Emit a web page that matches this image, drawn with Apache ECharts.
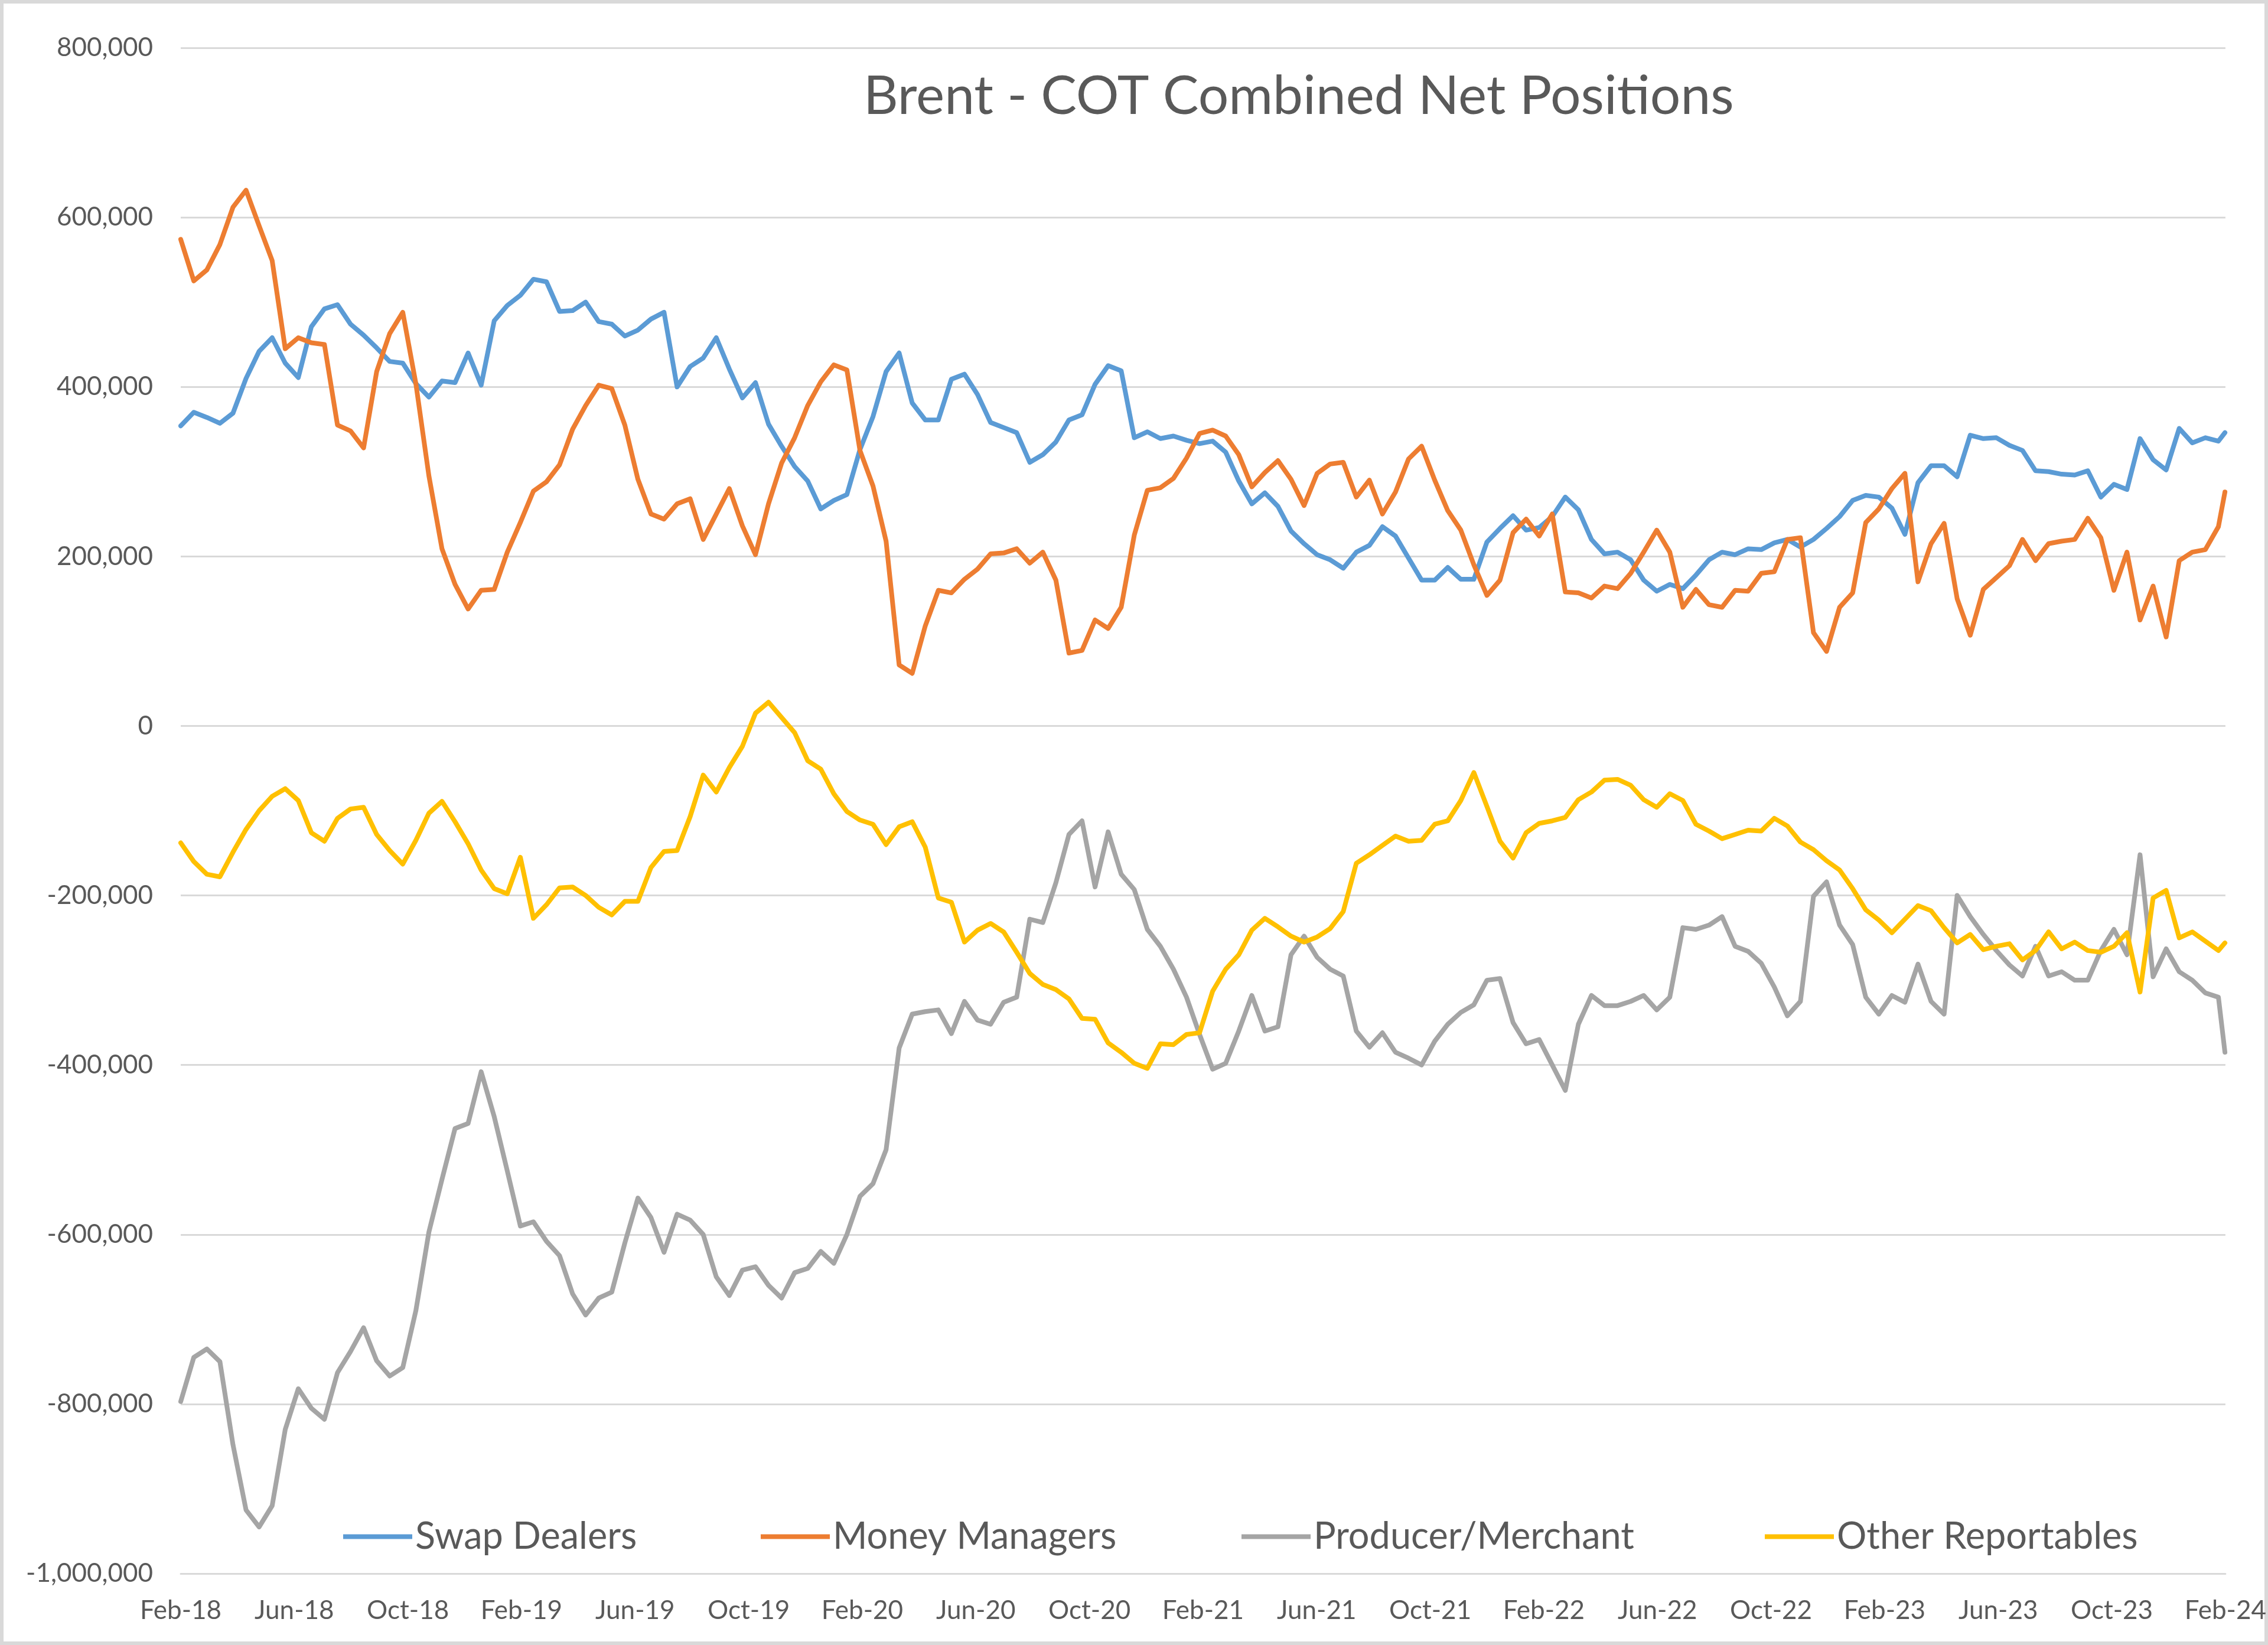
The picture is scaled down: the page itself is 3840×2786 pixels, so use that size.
<!DOCTYPE html>
<html>
<head>
<meta charset="utf-8">
<script src="https://cdn.jsdelivr.net/npm/echarts@6/dist/echarts.min.js"></script>
<style>
html,body{margin:0;padding:0;background:#ffffff;}
#chart{width:3840px;height:2786px;}
</style>
</head>
<body>
<div id="chart"></div>
<script>
// ---- Data (net positions, thousands of contracts), sampled every 2 weeks from 6 Feb 2018 ----
const titleText = 'Brent - COT Combined Net Positions';
const seriesNames = ['Swap Dealers', 'Money Managers', 'Producer/Merchant', 'Other Reportables'];
const xLabels = ['Feb-18','Jun-18','Oct-18','Feb-19','Jun-19','Oct-19','Feb-20','Jun-20','Oct-20',
  'Feb-21','Jun-21','Oct-21','Feb-22','Jun-22','Oct-22','Feb-23','Jun-23','Oct-23','Feb-24'];

// week offsets of the samples from the first report date
const sampleWeeks = [];
for (let k = 0; k <= 312; k += 2) sampleWeeks.push(k);
sampleWeeks.push(313);
const dates = sampleWeeks.map(k => new Date(Date.UTC(2018, 1, 6) + k * 7 * 86400000).toISOString().slice(0, 10));

const swapDealers = [
354,370,364,357,369,410,442,458,428,411,
471,492,497,474,461,446,430,428,404,388,
407,405,440,402,478,496,508,527,524,489,
490,500,477,474,460,467,480,488,400,424,
434,458,421,387,405,356,330,306,289,256,
266,273,326,365,418,440,381,361,361,409,
415,391,358,352,346,311,320,335,361,367,
403,425,419,340,347,339,342,337,333,336,
323,289,262,275,259,230,215,202,196,186,
205,213,235,224,198,172,172,187,173,173,
217,233,248,231,234,247,270,255,220,203,
205,196,172,159,167,162,178,196,205,202,
209,208,216,220,211,220,233,247,266,272,
270,257,226,287,307,307,294,343,339,340,
331,325,301,300,297,296,301,270,285,279,
339,314,302,351,334,340,336,346];

const moneyManagers = [
574,525,538,568,612,632,590,549,445,458,
452,450,355,348,328,418,463,488,404,295,
209,167,138,160,161,205,240,277,288,308,
350,378,402,398,355,291,250,244,262,268,
220,250,280,236,202,262,310,340,378,406,
426,420,325,283,218,72,62,118,160,157,
173,185,203,204,209,192,205,172,86,89,
125,115,140,225,278,281,292,316,345,349,
342,320,282,299,313,291,260,298,309,311,
270,290,250,276,315,330,290,254,231,190,
154,172,228,244,224,250,158,157,151,165,
162,180,205,231,205,140,161,143,140,160,
159,180,182,220,222,110,88,140,157,240,
256,280,298,170,215,239,150,107,161,175,
189,220,195,215,218,220,245,222,160,205,
125,165,105,195,205,208,235,276];

const producerMerchant = [
-797,-745,-735,-750,-848,-925,-945,-920,-830,-782,
-805,-818,-763,-738,-710,-749,-767,-757,-690,-597,
-535,-475,-469,-408,-461,-525,-590,-585,-608,-625,
-670,-695,-675,-668,-610,-557,-580,-621,-576,-583,
-600,-650,-672,-642,-638,-660,-675,-645,-640,-620,
-634,-600,-555,-540,-500,-380,-340,-337,-335,-363,
-325,-347,-352,-326,-320,-228,-232,-185,-128,-112,
-190,-125,-175,-193,-240,-260,-287,-320,-364,-405,
-398,-360,-318,-360,-355,-270,-248,-273,-287,-295,
-360,-379,-362,-385,-392,-400,-372,-352,-338,-329,
-300,-298,-350,-375,-370,-400,-430,-352,-318,-330,
-330,-325,-318,-335,-320,-238,-240,-235,-225,-260,
-266,-280,-308,-342,-325,-201,-184,-235,-258,-320,
-340,-318,-326,-281,-325,-340,-200,-225,-246,-265,
-282,-295,-260,-295,-290,-300,-300,-265,-240,-270,
-152,-296,-263,-290,-300,-315,-320,-385];

const otherReportables = [
-138,-160,-175,-178,-149,-122,-100,-83,-74,-88,
-126,-136,-109,-98,-96,-128,-147,-163,-135,-103,
-89,-113,-139,-170,-192,-198,-155,-227,-211,-191,
-190,-200,-214,-223,-207,-207,-167,-148,-147,-107,
-58,-78,-49,-24,15,28,10,-8,-41,-51,
-80,-101,-111,-116,-140,-119,-113,-143,-203,-208,
-255,-241,-233,-243,-267,-292,-305,-311,-322,-345,
-346,-374,-385,-398,-404,-375,-376,-364,-362,-313,
-287,-270,-241,-227,-237,-248,-255,-249,-239,-219,
-162,-152,-141,-130,-136,-135,-116,-112,-88,-55,
-95,-136,-156,-126,-115,-112,-108,-87,-78,-64,
-63,-70,-87,-96,-80,-88,-116,-124,-133,-128,
-123,-124,-109,-118,-137,-146,-159,-170,-192,-217,
-229,-244,-228,-212,-218,-238,-256,-246,-264,-260,
-257,-276,-265,-243,-263,-255,-265,-267,-260,-244,
-314,-203,-194,-250,-243,-254,-265,-256];

const seriesColors = ['#5B9BD5', '#ED7D31', '#A5A5A5', '#FFC000'];
const allValues = [swapDealers, moneyManagers, producerMerchant, otherReportables];

// ---- Build ----
const DAYS_PER_MONTH = 30.4375;
const t0 = Date.UTC(2018, 1, 6);
const xMonths = dates.map(d => (Date.parse(d + 'T00:00:00Z') - t0) / 86400000 / DAYS_PER_MONTH);

const FONT = 'Lato';
const TXT = '#595959';

const series = seriesNames.map((name, s) => ({
  name: name,
  type: 'line',
  showSymbol: false,
  symbol: 'none',
  smooth: false,
  lineStyle: { width: 8, color: seriesColors[s], join: 'round', cap: 'round' },
  itemStyle: { color: seriesColors[s] },
  data: xMonths.map((x, i) => [x, allValues[s][i] * 1000]),
  animation: false
}));

const legendLeft = [581, 1288, 2102, 2988];
const legends = seriesNames.map((name, s) => ({
  data: [name],
  left: legendLeft[s],
  top: 2571,
  padding: 0,
  icon: 'rect',
  itemWidth: 117,
  itemHeight: 8,
  selectedMode: false,
  textStyle: { fontFamily: FONT, fontSize: 63, lineHeight: 63, color: TXT }
}));

const chart = echarts.init(document.getElementById('chart'), null, { renderer: 'canvas' });
chart.setOption({
  backgroundColor: '#ffffff',
  animation: false,
  title: {
    text: titleText,
    left: 1462,
    top: 118,
    padding: 0,
    textStyle: { fontFamily: FONT, fontSize: 91, lineHeight: 91, fontWeight: 'normal', color: TXT }
  },
  legend: legends,
  grid: { left: 306, right: 63, top: 81, bottom: 121, containLabel: false },
  xAxis: {
    type: 'value',
    min: 0,
    max: 72,
    interval: 4,
    axisLine: { show: true, onZero: false, lineStyle: { color: '#D9D9D9', width: 3 } },
    axisTick: { show: false },
    splitLine: { show: false },
    axisLabel: {
      margin: 41,
      fontFamily: FONT,
      fontSize: 44,
      color: TXT,
      formatter: v => xLabels[Math.round(v / 4)] || ''
    }
  },
  yAxis: {
    type: 'value',
    min: -1000000,
    max: 800000,
    interval: 200000,
    axisLine: { show: false },
    axisTick: { show: false },
    splitLine: { show: true, lineStyle: { color: '#D9D9D9', width: 3 } },
    axisLabel: {
      margin: 47,
      fontFamily: FONT,
      fontSize: 44,
      color: TXT,
      formatter: v => v.toLocaleString('en-US')
    }
  },
  graphic: [{
    type: 'rect',
    silent: true,
    shape: { x: 3, y: 3, width: 3834, height: 2780 },
    style: { fill: null, stroke: '#D9D9D9', lineWidth: 6 }
  }],
  series: series
});
</script>
</body>
</html>
